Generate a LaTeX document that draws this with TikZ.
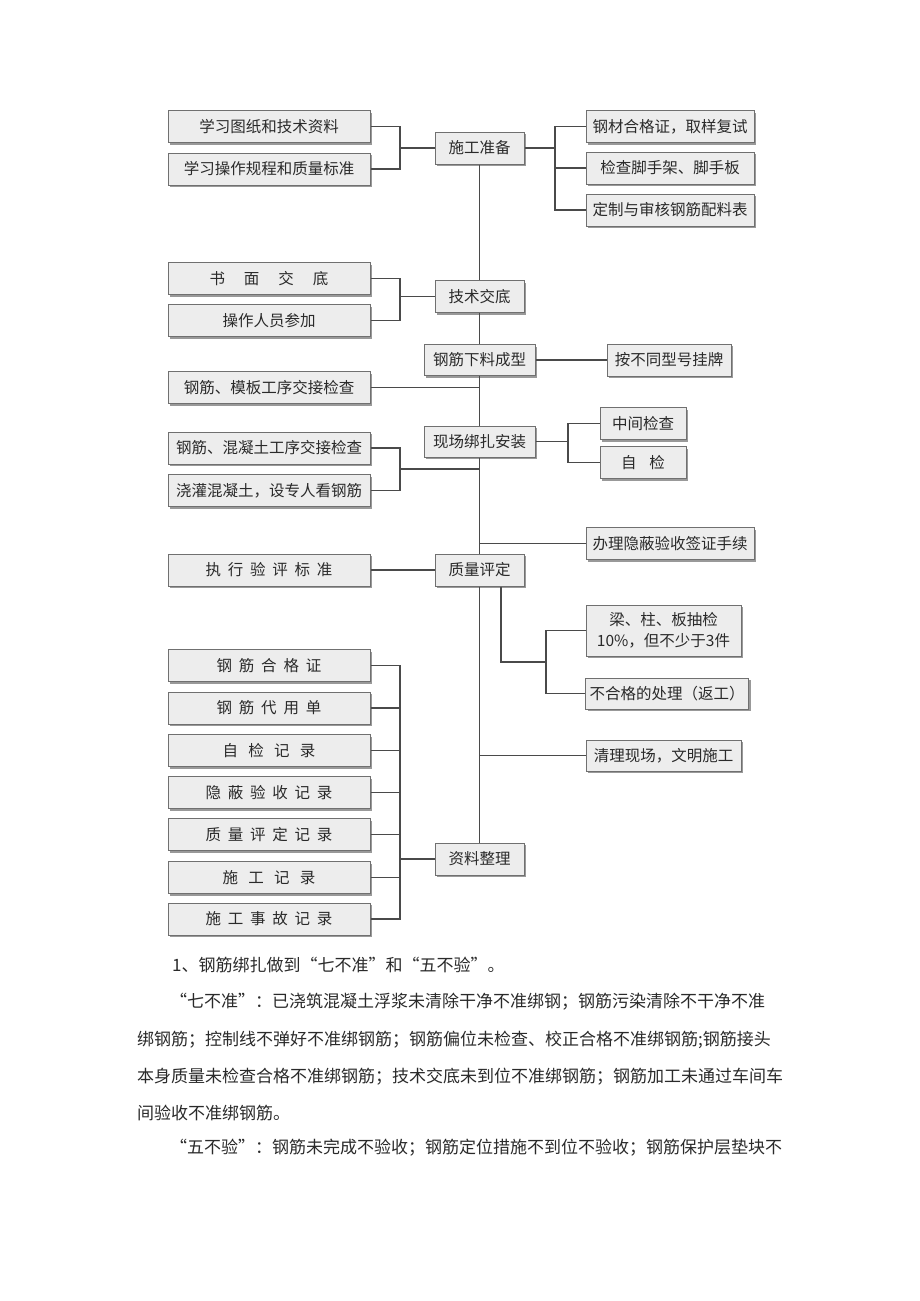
\documentclass[tikz,border=0pt]{standalone}
\usepackage{fontspec}
\setmainfont{Noto Sans CJK SC}
\usetikzlibrary{shadows,calc}
\definecolor{boxfill}{HTML}{EDEDED}
\definecolor{boxline}{HTML}{707070}
\definecolor{lncol}{HTML}{4A4A4A}
\definecolor{txt}{HTML}{2A2A2A}
\newcommand{\gA}{\hspace{6.8pt}}
\newcommand{\gB}{\hspace{10.3pt}}
\newcommand{\gC}{\hspace{19pt}}
\newcommand{\gD}{\hspace{13pt}}
\XeTeXlinebreaklocale "zh"
\XeTeXlinebreakskip=0pt plus 3pt
\newcommand{\fitline}[2]{\hbox to #1{#2}}
\begin{document}
\begin{tikzpicture}[x=1pt,y=-1pt,
  box/.style={draw=boxline, line width=1pt, fill=boxfill, inner sep=0pt,
    font=\fontsize{15.5}{21}\selectfont, text=txt,
    drop shadow={shadow xshift=2pt, shadow yshift=-2pt, fill=black!40, opacity=1}},
  lb/.style={box, minimum width=202pt, minimum height=32pt},
  mb/.style={box, minimum width=89pt, minimum height=32pt},
  wb/.style={box, minimum width=111pt, minimum height=31pt},
  rb/.style={box, minimum width=168pt, minimum height=32pt},
  ln/.style={draw=lncol, line width=1.6pt},
  para/.style={anchor=west, inner sep=0pt, font=\fontsize{17}{20}\selectfont, text=txt}]
\useasboundingbox[fill=white] (0,0) rectangle (920,1301);

% main column
\node[mb] (sg) at (479.5,148) {施工准备};
\node[mb] (js) at (479.5,296.5) {技术交底};
\node[wb] (xl) at (479.5,360) {钢筋下料成型};
\node[wb] (xc) at (479.5,441.5) {现场绑扎安装};
\node[mb] (zl) at (479.5,570) {质量评定};
\node[mb] (zr) at (479.5,859) {资料整理};

% left boxes
\node[lb] (L1) at (269,126.5) {学习图纸和技术资料};
\node[lb] (L2) at (269,169) {学习操作规程和质量标准};
\node[lb] (L3) at (269,278.5) {书\gC 面\gC 交\gC 底};
\node[lb] (L4) at (269,320.5) {操作人员参加};
\node[lb] (L5) at (269,387.5) {钢筋、模板工序交接检查};
\node[lb] (L6) at (269,448) {钢筋、混凝土工序交接检查};
\node[lb] (L7) at (269,490.5) {浇灌混凝土，设专人看钢筋};
\node[lb] (L8) at (269,570) {执\gA 行\gA 验\gA 评\gA 标\gA 准};
\node[lb] (L9) at (269,665.5) {钢\gA 筋\gA 合\gA 格\gA 证};
\node[lb] (L10) at (269,708) {钢\gA 筋\gA 代\gA 用\gA 单};
\node[lb] (L11) at (269,750.5) {自\gB 检\gB 记\gB 录};
\node[lb] (L12) at (269,792.5) {隐\gA 蔽\gA 验\gA 收\gA 记\gA 录};
\node[lb] (L13) at (269,834.5) {质\gA 量\gA 评\gA 定\gA 记\gA 录};
\node[lb] (L14) at (269,877.5) {施\gB 工\gB 记\gB 录};
\node[lb] (L15) at (269,919) {施\gA 工\gA 事\gA 故\gA 记\gA 录};

% right boxes
\node[rb] (R1) at (670,126.5) {钢材合格证，取样复试};
\node[rb] (R2) at (670,168) {检查脚手架、脚手板};
\node[rb] (R3) at (670,210) {定制与审核钢筋配料表};
\node[box, minimum width=124pt, minimum height=32pt] (R4) at (669,360) {按不同型号挂牌};
\node[box, minimum width=86pt, minimum height=32pt] (R5) at (643,423.5) {中间检查};
\node[box, minimum width=86pt, minimum height=32pt] (R6) at (643,462.5) {自\gD 检};
\node[rb] (R7) at (670,543.5) {办理隐蔽验收签证手续};
\node[box, minimum width=155pt, minimum height=51pt, align=center] (R8) at (663.5,630.5) {梁、柱、板抽检\\10\%，但不少于3件};
\node[box, minimum width=163pt, minimum height=31pt] (R9) at (667,693.5) {不合格的处理（返工）};
\node[box, minimum width=155pt, minimum height=31pt] (R10) at (663.5,755.5) {清理现场，文明施工};

% bracket positions
\coordinate (xL) at (400,0);
\coordinate (xR1) at (555,0);
\coordinate (xR2) at (568,0);
\coordinate (xR3) at (546,0);
\coordinate (m67) at (400,469);
\coordinate (bk) at (501,662);

% main vertical line
\draw[ln] (sg.south) -- (js.north);
\draw[ln] (js.south) -- (xl.north);
\draw[ln] (xl.south) -- (xc.north);
\draw[ln] (xc.south) -- (zl.north);
\draw[ln] (zl.south) -- (zr.north);

% 施工准备
\draw[ln] (L1.east) -- (L1.east -| xL) -- (L2.east -| xL) -- (L2.east);
\draw[ln] (sg.west) -- (sg.west -| xL);
\draw[ln] (sg.east) -- (sg.east -| xR1);
\draw[ln] (R1.west) -- (R1.west -| xR1) -- (R3.west -| xR1) -- (R3.west);
\draw[ln] (R2.west) -- (R2.west -| xR1);

% 技术交底
\draw[ln] (L3.east) -- (L3.east -| xL) -- (L4.east -| xL) -- (L4.east);
\draw[ln] (js.west) -- (js.west -| xL);

% 钢筋下料成型
\draw[ln] (xl.east) -- (R4.west);
\draw[ln] (L5.east) -- (L5.east -| sg.south);

% 现场绑扎安装
\draw[ln] (xc.east) -- (xc.east -| xR2);
\draw[ln] (R5.west) -- (R5.west -| xR2) -- (R6.west -| xR2) -- (R6.west);
\draw[ln] (L6.east) -- (L6.east -| xL) -- (L7.east -| xL) -- (L7.east);
\draw[ln] (m67) -- (m67 -| sg.south);

% 质量评定
\draw[ln] (R7.west) -- (R7.west -| sg.south);
\draw[ln] (L8.east) -- (zl.west);
\draw[ln] ([xshift=21.5pt]zl.south) -- (bk) -- (bk -| xR3);
\draw[ln] (R8.west) -- (R8.west -| xR3) -- (R9.west -| xR3) -- (R9.west);
\draw[ln] (R10.west) -- (R10.west -| sg.south);

% 资料整理
\draw[ln] (L9.east) -- (L9.east -| xL) -- (L15.east -| xL) -- (L15.east);
\foreach \i in {10,...,14} { \draw[ln] (L\i.east) -- (L\i.east -| xL); }
\draw[ln] (zr.west) -- (zr.west -| xL);

% paragraph text
\node[para] (p1) at (172,965) {1、钢筋绑扎做到“七不准”和“五不验”。};
\node[para] (p2) at (170,1002) {\fitline{615pt}{“七不准”：已浇筑混凝土浮浆未清除干净不准绑钢；钢筋污染清除不干净不准}};
\node[para] (p3) at (137,1040) {\fitline{640pt}{绑钢筋；控制线不弹好不准绑钢筋；钢筋偏位未检查、校正合格不准绑钢筋;钢筋接头}};
\node[para] (p4) at (137,1077) {\fitline{648pt}{本身质量未检查合格不准绑钢筋；技术交底未到位不准绑钢筋；钢筋加工未通过车间车}};
\node[para] (p5) at (137,1113) {间验收不准绑钢筋。};
\node[para] (p6) at (170,1148) {\fitline{616pt}{“五不验”：钢筋未完成不验收；钢筋定位措施不到位不验收；钢筋保护层垫块不}};
\end{tikzpicture}
\end{document}
